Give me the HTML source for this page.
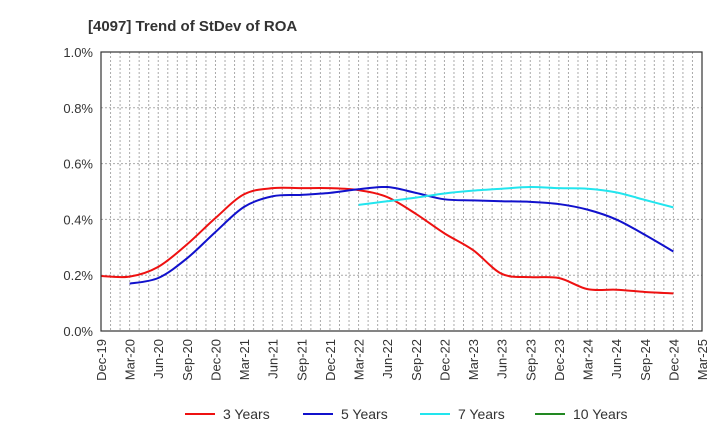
<!DOCTYPE html>
<html><head><meta charset="utf-8"><style>
body{margin:0;background:#fff;}
svg{font-family:"Liberation Sans",sans-serif;}
</style></head><body>
<svg id="chart" width="720" height="440">
<text x="88" y="31" font-size="15" font-weight="bold" fill="#333">[4097]  Trend of StDev of ROA</text>
<g id="grid"></g><g id="series"></g><g id="axes"></g><g id="legend"></g>
</svg>
<script>
const xLabels=["Dec-19","Mar-20","Jun-20","Sep-20","Dec-20","Mar-21","Jun-21","Sep-21","Dec-21","Mar-22","Jun-22","Sep-22","Dec-22","Mar-23","Jun-23","Sep-23","Dec-23","Mar-24","Jun-24","Sep-24","Dec-24","Mar-25"];
const yTicks=[0,0.2,0.4,0.6,0.8,1.0];
const s3Start=0;
const s3=[0.197,0.195,0.23,0.31,0.405,0.49,0.512,0.512,0.512,0.505,0.48,0.42,0.35,0.29,0.205,0.193,0.19,0.15,0.148,0.14,0.135];
const s5Start=1;
const s5=[0.17,0.19,0.26,0.355,0.445,0.483,0.488,0.495,0.508,0.516,0.495,0.472,0.468,0.465,0.463,0.455,0.435,0.40,0.345,0.285];
const s7Start=9;
const s7=[0.452,0.465,0.478,0.493,0.503,0.51,0.516,0.512,0.51,0.497,0.47,0.443];
const s10Start=0;
const s10=[];
const L=101,R=702,T=52,B=331;
const X=q=>L+(R-L)*q/21;
const Y=v=>B-(B-T)*v/1.0;
const NS="http://www.w3.org/2000/svg";
function mk(t,a,p){const e=document.createElementNS(NS,t);for(const k in a)e.setAttribute(k,a[k]);p.appendChild(e);return e;}
const grid=document.getElementById('grid'),axes=document.getElementById('axes'),ser=document.getElementById('series'),leg=document.getElementById('legend');
for(let m=1;m<63;m++){const x=L+(R-L)*m/63;const l=mk('line',{x1:x,x2:x,y1:T,y2:B,stroke:'#aaa','stroke-dasharray':'2,2','stroke-width':1},grid);

}
yTicks.forEach(v=>{const y=Y(v);if(v>0&&v<1){const l=mk('line',{x1:L,x2:R,y1:y,y2:y,stroke:'#aaa','stroke-dasharray':'2,2'},grid);

}
const t=mk('text',{x:L-8,y:y+5,'text-anchor':'end','font-size':13,fill:'#333'},axes);t.textContent=v.toFixed(1)+'%';

});
const fr=mk('rect',{x:L,y:T,width:R-L,height:B-T,fill:'none',stroke:'#333','stroke-width':1.2},axes);


xLabels.forEach((s,i)=>{const x=X(i)+5;const t=mk('text',{x:x,y:B+8,'text-anchor':'end','font-size':13,fill:'#333',transform:`rotate(-90 ${x} ${B+8})`},axes);t.textContent=s;

});
function path(vals,start){const p=vals.map((v,i)=>[X(start+i),Y(v)]);if(!p.length)return'';let d=`M${p[0][0]},${p[0][1]}`;
for(let i=0;i<p.length-1;i++){const p0=p[i-1]||p[i],p1=p[i],p2=p[i+1],p3=p[i+2]||p2;
d+=` C${p1[0]+(p2[0]-p0[0])/6},${p1[1]+(p2[1]-p0[1])/6} ${p2[0]-(p3[0]-p1[0])/6},${p2[1]-(p3[1]-p1[1])/6} ${p2[0]},${p2[1]}`;}return d;}
const defs=[[s3,s3Start,'#ee1111','3 Years','series-3-years'],[s5,s5Start,'#1111cc','5 Years','series-5-years'],[s7,s7Start,'#22e5ee','7 Years','series-7-years'],[s10,s10Start,'#228822','10 Years','series-10-years']];
const lx=[185,303,420,535];
defs.forEach((d,i)=>{if(d[0].length){const p=mk('path',{d:path(d[0],d[1]),fill:'none',stroke:d[2],'stroke-width':2},ser);

}
const g=mk('g',{},leg);


mk('line',{x1:lx[i],x2:lx[i]+30,y1:414,y2:414,stroke:d[2],'stroke-width':2},g);
const t=mk('text',{x:lx[i]+38,y:419,'font-size':14,fill:'#333'},g);t.textContent=d[3];});
</script>
</body></html>
